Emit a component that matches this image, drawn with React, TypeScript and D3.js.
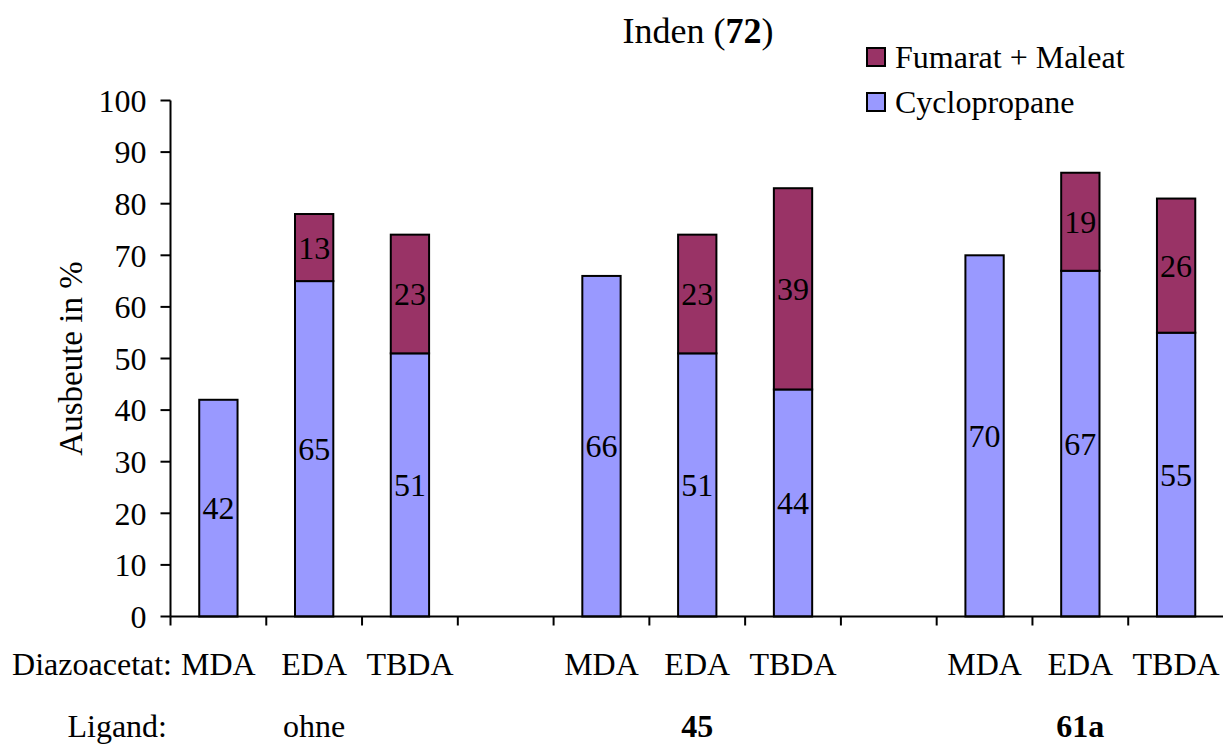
import React, { useEffect, useRef } from "react";
import * as d3 from "d3";

// slot labels along the x axis ("" = empty gap slot)
const diazoacetat = ["MDA", "EDA", "TBDA", "", "MDA", "EDA", "TBDA", "", "MDA", "EDA", "TBDA"];
const cyclopropane = [42, 65, 51, 0, 66, 51, 44, 0, 70, 67, 55];
const fumaratMaleat = [0, 13, 23, 0, 0, 23, 39, 0, 0, 19, 26];
const ligands = ["ohne", "45", "61a"];
const ligandSlots = [1, 5, 9];
const yTicks = [0, 10, 20, 30, 40, 50, 60, 70, 80, 90, 100];

const seriesNames = ["Fumarat + Maleat", "Cyclopropane"];
const colors: Record<string, string> = {
  "Fumarat + Maleat": "#993366",
  Cyclopropane: "#9999FF",
};

const App: React.FC = () => {
  const svgRef = useRef<SVGSVGElement>(null);
  const width = 1223;
  const height = 747;

  useEffect(() => {
    if (!svgRef.current) return;
    const svg = d3.select(svgRef.current);
    svg.selectAll("*").remove();

    const font = "'Liberation Serif', 'Times New Roman', serif";
    const fs = 32;

    const left = 170.5;
    const right = 1224;
    const top = 100.5;
    const bottom = 616.5;

    const slots = diazoacetat.map((_, i) => String(i));
    const x = d3.scaleBand().domain(slots).range([left, right]).padding(0);
    const y = d3.scaleLinear().domain([0, 100]).range([bottom, top]);
    const bw = x.bandwidth() * 0.4;

    const g = svg.append("g").attr("font-family", font).attr("font-size", fs);

    // stacked data
    const rows = slots.map((s, i) => ({
      slot: s,
      Cyclopropane: cyclopropane[i],
      "Fumarat + Maleat": fumaratMaleat[i],
    }));
    const stack = d3.stack<any>().keys(["Cyclopropane", "Fumarat + Maleat"]);
    const stacked = stack(rows);

    stacked.forEach((layer) => {
      const key = layer.key;
      layer.forEach((d) => {
        const v = d[1] - d[0];
        if (v <= 0) return;
        const cx = x(d.data.slot)! + x.bandwidth() / 2;
        g.append("rect")
          .attr("x", cx - bw / 2)
          .attr("y", y(d[1]))
          .attr("width", bw)
          .attr("height", y(d[0]) - y(d[1]))
          .attr("fill", colors[key])
          .attr("stroke", "#000")
          .attr("stroke-width", 2);
        g.append("text")
          .attr("x", cx)
          .attr("y", (y(d[0]) + y(d[1])) / 2)
          .attr("dy", "0.35em")
          .attr("text-anchor", "middle")
          .attr("fill", "#000")
          .text(v);
      });
    });

    // y axis
    g.append("line")
      .attr("x1", left).attr("x2", left)
      .attr("y1", top).attr("y2", bottom)
      .attr("stroke", "#000").attr("stroke-width", 2);
    yTicks.forEach((t) => {
      g.append("line")
        .attr("x1", left - 10).attr("x2", left)
        .attr("y1", y(t)).attr("y2", y(t))
        .attr("stroke", "#000").attr("stroke-width", 2);
      g.append("text")
        .attr("x", left - 24)
        .attr("y", y(t))
        .attr("dy", "0.35em")
        .attr("text-anchor", "end")
        .text(t);
    });

    // x axis
    g.append("line")
      .attr("x1", left).attr("x2", right)
      .attr("y1", bottom).attr("y2", bottom)
      .attr("stroke", "#000").attr("stroke-width", 2);
    slots.forEach((s) => {
      const bx = x(s)!;
      g.append("line")
        .attr("x1", bx).attr("x2", bx)
        .attr("y1", bottom).attr("y2", bottom + 9)
        .attr("stroke", "#000").attr("stroke-width", 2);
    });

    // category labels
    slots.forEach((s, i) => {
      if (!diazoacetat[i]) return;
      g.append("text")
        .attr("x", x(s)! + x.bandwidth() / 2)
        .attr("y", 675)
        .attr("text-anchor", "middle")
        .text(diazoacetat[i]);
    });
    g.append("text").attr("x", 172).attr("y", 675).attr("text-anchor", "end").text("Diazoacetat:");

    g.append("text").attr("x", 167).attr("y", 737).attr("text-anchor", "end").text("Ligand:");
    ligands.forEach((l, i) => {
      g.append("text")
        .attr("x", x(slots[ligandSlots[i]])! + x.bandwidth() / 2)
        .attr("y", 737)
        .attr("text-anchor", "middle")
        .attr("font-weight", i === 0 ? "normal" : "bold")
        .text(l);
    });

    // y label
    g.append("text")
      .attr("transform", `translate(82,${(top + bottom) / 2}) rotate(-90)`)
      .attr("text-anchor", "middle")
      .attr("font-size", 33)
      .text("Ausbeute in %");

    // title
    const title = g
      .append("text")
      .attr("x", 698)
      .attr("y", 43)
      .attr("text-anchor", "middle")
      .attr("font-size", 36);
    title.append("tspan").text("Inden (");
    title.append("tspan").attr("font-weight", "bold").text("72");
    title.append("tspan").text(")");

    // legend
    seriesNames.forEach((n, i) => {
      const ly = 48 + i * 45;
      g.append("rect")
        .attr("x", 867).attr("y", ly)
        .attr("width", 18).attr("height", 18)
        .attr("fill", colors[n]).attr("stroke", "#000").attr("stroke-width", 2);
      g.append("text")
        .attr("x", 895).attr("y", ly + 20)
        .text(n);
    });
  }, []);

  return (
    <svg
      ref={svgRef}
      width={width}
      height={height}
      style={{ position: "absolute", left: 0, top: 0, background: "#fff" }}
    />
  );
};

export default App;
